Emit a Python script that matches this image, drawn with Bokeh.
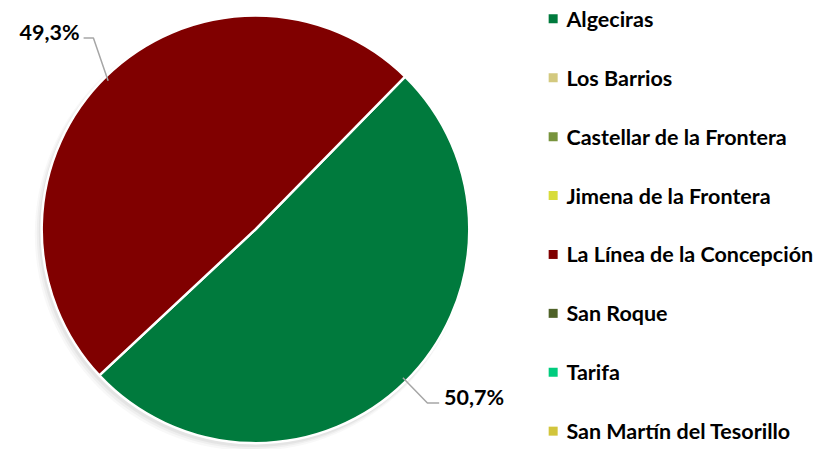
import math
from bokeh.plotting import figure
from bokeh.models import ColumnDataSource
from bokeh.core.properties import value
from bokeh.embed import file_html
from bokeh.resources import INLINE

# ---- data ----
categories = ["Algeciras", "Los Barrios", "Castellar de la Frontera", "Jimena de la Frontera",
              "La Línea de la Concepción", "San Roque", "Tarifa", "San Martín del Tesorillo"]
shares = [50.7, 0.0, 0.0, 0.0, 49.3, 0.0, 0.0, 0.0]
colors = ["#007A3D", "#D3C97F", "#77933C", "#D8DC3A", "#800000", "#4F6228", "#00CC7E", "#D2C53C"]

W, H = 816, 449
RW, RH = 832, 465
FONT = "Lato"
FS = "21.5px"

def px(x):
    return x

def py(y):
    return RH - y

p = figure(width=W, height=H, x_range=(0, RW), y_range=(0, RH), output_backend="svg",
           toolbar_location=None, min_border=0)
p.axis.visible = False
p.grid.visible = False
p.outline_line_color = None
p.background_fill_color = "white"
p.border_fill_color = "white"

cx, cy, R = px(260), py(237), 218
start_deg = 45.6

# soft shadow (lower-left)
for dx, dy, rr, a in [(-4, -5, R + 3, 0.05), (-3, -4, R + 2, 0.07), (-2, -3, R + 1, 0.09)]:
    p.circle(x=[cx + dx], y=[cy + dy], radius=rr, fill_color="#7F7F7F", fill_alpha=a, line_color=None)

total = sum(shares)
ws, we, wc, mids = [], [], [], []
cum = 0.0
for v, c in zip(shares, colors):
    s = math.radians(start_deg) - cum / total * 2 * math.pi
    e = s - v / total * 2 * math.pi
    cum += v
    if v > 0:
        ws.append(s); we.append(e); wc.append(c); mids.append(((s + e) / 2, v))

src = ColumnDataSource(dict(x=[cx] * len(ws), y=[cy] * len(ws), s=ws, e=we, c=wc))
p.wedge(x="x", y="y", radius=R, start_angle="s", end_angle="e", direction="clock",
        fill_color="c", line_color="white", line_width=2.5, source=src)

# data labels with leader lines
for mid, v in mids:
    ex, ey = cx + (R - 3) * math.cos(mid), cy + (R - 3) * math.sin(mid)
    lab = f"{v:.1f}%".replace(".", ",")
    if math.cos(mid) < 0:
        elx, ely = ex - 15, ey + 44.5
        endx = elx - 10
        p.line([ex, elx, endx], [ey, ely, ely], line_color="#A6A6A6", line_width=1.5)
        p.text(x=[endx - 4], y=[ely + 6.5], text=[lab], text_align="right", text_baseline="middle",
               text_font=value(FONT), text_font_style="bold", text_font_size=FS, text_color="black")
    else:
        elx, ely = ex + 25, ey - 26
        endx = elx + 12
        p.line([ex, elx, endx], [ey, ely, ely], line_color="#A6A6A6", line_width=1.5)
        p.text(x=[endx + 5], y=[ely + 6], text=[lab], text_align="left", text_baseline="middle",
               text_font=value(FONT), text_font_style="bold", text_font_size=FS, text_color="black")

# legend
n = len(categories)
lsrc = ColumnDataSource(dict(x=[px(563.5)] * n, y=[py(19 + 61 * i) for i in range(n)],
                             tx=[px(577)] * n, c=colors, t=categories))
p.scatter(x="x", y="y", marker="square", size=9, fill_color="c", line_color=None, source=lsrc)
p.text(x="tx", y="y", text="t", text_align="left", text_baseline="middle",
       text_font=value(FONT), text_font_style="bold", text_font_size=FS, text_color="black",
       source=lsrc)

open("out.html", "w").write(file_html(p, INLINE))
